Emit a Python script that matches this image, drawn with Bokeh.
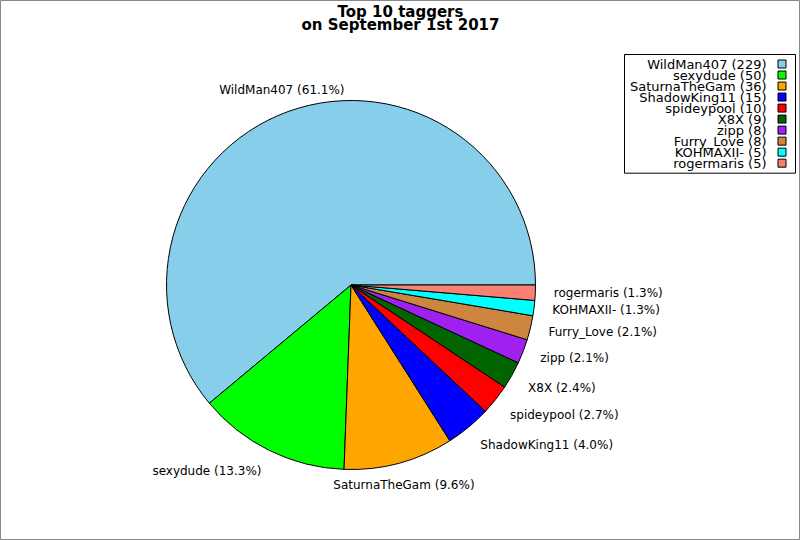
import math
from bokeh.plotting import figure
from bokeh.models import ColumnDataSource, Range1d
from bokeh.core.properties import value
from bokeh.embed import file_html
from bokeh.resources import INLINE

# ---- data ----
names = ["WildMan407", "sexydude", "SaturnaTheGam", "ShadowKing11", "spideypool",
         "X8X", "zipp", "Furry_Love", "KOHMAXII-", "rogermaris"]
counts = [229, 50, 36, 15, 10, 9, 8, 8, 5, 5]
colors = ["#87CEEB", "#00FF00", "#FFA500", "#0000FF", "#FF0000",
          "#006400", "#A020F0", "#CD853F", "#00FFFF", "#FA8072"]
title_lines = ["Top 10 taggers", "on September 1st 2017"]

W, H = 800, 540
FONT = "DejaVu Sans"

def fx(sx):
    return sx

def fy(sy):
    return H - sy

p = figure(width=W, height=H, output_backend="svg", toolbar_location=None,
           x_range=Range1d(0, W), y_range=Range1d(0, H), min_border=0)
p.axis.visible = False
p.grid.visible = False
p.outline_line_color = "#888888"
p.outline_line_width = 1
p.background_fill_color = "white"

# ---- pie ----
cx, cy, R = fx(350.5), fy(284.5), 184.5
total = sum(counts)
starts, ends = [], []
acc = 0
for c in counts:
    starts.append(2 * math.pi * acc / total)
    acc += c
    ends.append(2 * math.pi * acc / total)

src = ColumnDataSource(dict(x=[cx] * len(counts), y=[cy] * len(counts),
                            start=starts, end=ends, color=colors))
p.wedge(x="x", y="y", radius=R, start_angle="start", end_angle="end",
        fill_color="color", line_color="black", line_width=1, source=src)

# ---- slice labels ----
groups = {}
for n, c, s, e in zip(names, counts, starts, ends):
    mid = (s + e) / 2
    co, si = math.cos(mid), math.sin(mid)
    lx = cx + 1.1 * R * co
    ly = cy + 1.1 * R * si
    if abs(si) > 0.4:
        ly += 4 * (1 if si > 0 else -1)
    txt = f"{n} ({100 * c / total:.1f}%)"
    if abs(co) < 0.4:
        al = "center"
    elif co > 0:
        al = "left"
    else:
        al = "right"
    groups.setdefault(al, dict(x=[], y=[], t=[]))
    groups[al]["x"].append(lx)
    groups[al]["y"].append(ly)
    groups[al]["t"].append(txt)

for al, d in groups.items():
    p.text(x=d["x"], y=d["y"], text=d["t"], text_align=al, text_baseline="middle",
           text_font=value(FONT), text_font_size="12px", text_color="black")

# ---- legend (drawn manually: text right-aligned, swatch on right) ----
p.quad(left=fx(624), right=fx(795), top=fy(54), bottom=fy(172.7),
       fill_color="white", line_color="black", line_width=1)
row = 11.02
leg_text = [f"{n} ({c})" for n, c in zip(names, counts)]
p.text(x=[fx(766)] * len(names), y=[fy(63.5 + row * i) for i in range(len(names))],
       text=leg_text, text_align="right", text_baseline="middle",
       text_font=value(FONT), text_font_size="13px", text_color="black")
p.rect(x=[fx(781.5)] * len(names), y=[fy(63.5 + row * i) for i in range(len(names))],
       width=8, height=8, fill_color=colors, line_color="black", line_width=1)

# ---- title ----
p.text(x=[fx(400)] * 2, y=[fy(11.3), fy(24)], text=title_lines,
       text_align="center", text_baseline="middle",
       text_font=value(FONT), text_font_size="15px", text_font_style="bold",
       text_color="black")

open("out.html", "w").write(file_html(p, INLINE))
